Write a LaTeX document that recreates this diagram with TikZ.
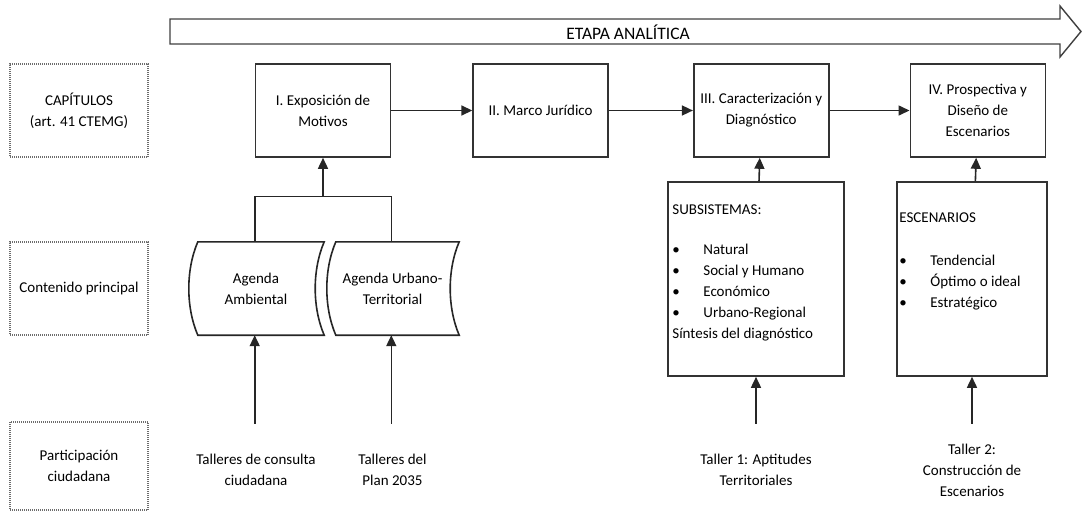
\documentclass[tikz,border=0pt]{standalone}
\usepackage{fontspec}
\setmainfont{Carlito}
\usetikzlibrary{arrows.meta, positioning, calc}
\newcommand{\bodyfont}{\fontsize{15}{21}\selectfont}
\newcommand{\bul}{\makebox[31pt][l]{\textbullet}}
\tikzset{
  labelbox/.style={
    rectangle, draw=gray!85!black, dash pattern=on 1pt off 1pt, line width=1.3pt,
    minimum width=138pt, minimum height=93pt, align=center, font=\bodyfont
  },
  chapbox/.style={
    rectangle, draw=black!80, line width=1.6pt, fill=white,
    minimum width=135pt, minimum height=93pt, align=center, font=\bodyfont
  },
  listbox/.style={chapbox, minimum height=194pt},
  agenda/.style={minimum height=93pt, align=center, font=\bodyfont, inner sep=0pt},
  taller/.style={minimum height=70pt, align=center, font=\bodyfont},
  listtext/.style={anchor=north west, align=left, font=\bodyfont, inner sep=0pt},
  edge/.style={-{Triangle[length=11pt,width=10pt]}, line width=1.6pt, draw=black!85},
  link/.style={line width=1.6pt, draw=black!85}
}

\begin{document}
\begin{tikzpicture}[x=1pt, y=-1pt]
    \useasboundingbox (0,0) rectangle (1082,512);
    % etapa arrow
    \draw[line width=1.4pt, draw=black!75, fill=white]
      (170,19) -- (1060,19) -- (1060,6) -- (1081,31.5) -- (1060,57) -- (1060,44) -- (170,44) -- cycle;
    \node[font=\fontsize{17.5}{21}\selectfont] (etapa) at (628,32) {ETAPA ANALÍTICA};

    % row labels
    \node[labelbox] (rowA) at (79,110.5) {CAPÍTULOS\\(art. 41 CTEMG)};
    \node[labelbox] (rowB) at (79,288.5) {Contenido principal};
    \node[labelbox, minimum height=88pt] (rowC) at (79,466) {Participación\\ciudadana};

    % chapters
    \node[chapbox] (capI) at (323,110.5) {I. Exposición de\\Motivos};
    \node[chapbox, right=81pt of capI] (capII) {II. Marco Jurídico};
    \node[chapbox, right=84pt of capII] (capIII) {III. Caracterización y\\Diagnóstico};
    \node[chapbox, right=80pt of capIII] (capIV) {IV. Prospectiva y\\Diseño de\\Escenarios};
    \draw[edge] (capI) -- (capII);
    \draw[edge] (capII) -- (capIII);
    \draw[edge] (capIII) -- (capIV);

    % agendas
    \node[agenda, minimum width=136pt] (agA) at (256,288.5) {};
    \node[agenda, minimum width=133pt] (agB) at (392.5,288.5) {};
    \foreach \a in {agA, agB}
      \draw[link, fill=white]
        ([xshift=10pt]\a.north west)
          .. controls ([xshift=-2pt,yshift=-28pt]\a.north west) and ([xshift=-2pt,yshift=28pt]\a.south west) ..
        ([xshift=10pt]\a.south west) -- (\a.south east)
          .. controls ([xshift=-12pt,yshift=28pt]\a.south east) and ([xshift=-12pt,yshift=-28pt]\a.north east) ..
        (\a.north east) -- cycle;
    \node[agenda, minimum width=136pt] at (agA) {Agenda\\Ambiental};
    \node[agenda, minimum width=133pt] at (agB) {Agenda Urbano-\\Territorial};
    \coordinate (join) at ($(capI.south)+(0,38.5)$);
    \draw[edge] (join) -- (capI.south);
    \draw[link] (agA.north -| capI.west) |- (join) -| (agB.north -| capI.east);

    % subsistemas / escenarios
    \node[listbox, minimum width=176pt] (subs) at (756,279) {};
    \node[listbox, minimum width=150pt] (escen) at (972,279) {};
    \node[listtext] (subsT) at ([xshift=5pt,yshift=-23pt]subs.north west)
      {SUBSISTEMAS:\\[19pt]\bul Natural\\\bul Social y Humano\\\bul Económico\\\bul Urbano-Regional\\Síntesis del diagnóstico};
    \node[listtext] (escenT) at ([xshift=3pt,yshift=-31pt]escen.north west)
      {ESCENARIOS\\[22pt]\bul Tendencial\\\bul Óptimo o ideal\\\bul Estratégico};
    \draw[edge] (subs) -- (capIII);
    \draw[edge] (escen) -- (capIV);

    % talleres
    \node[taller] (tA) at (256,470) {Talleres de consulta\\ciudadana};
    \node[taller] (tB) at (392.5,470) {Talleres del\\Plan 2035};
    \node[taller] (t1) at (756,470) {Taller 1: Aptitudes\\Territoriales};
    \node[taller] (t2) at (972,470) {Taller 2:\\Construcción de\\Escenarios};
    \draw[edge, shorten <=11pt] (tA.north -| capI.west) -- (agA.south -| capI.west);
    \draw[edge, shorten <=11pt] (tB.north -| capI.east) -- (agB.south -| capI.east);
    \draw[edge, shorten <=11pt] (t1.north) -- (subs.south);
    \draw[edge, shorten <=11pt] (t2.north) -- (escen.south);
\end{tikzpicture}
\end{document}
